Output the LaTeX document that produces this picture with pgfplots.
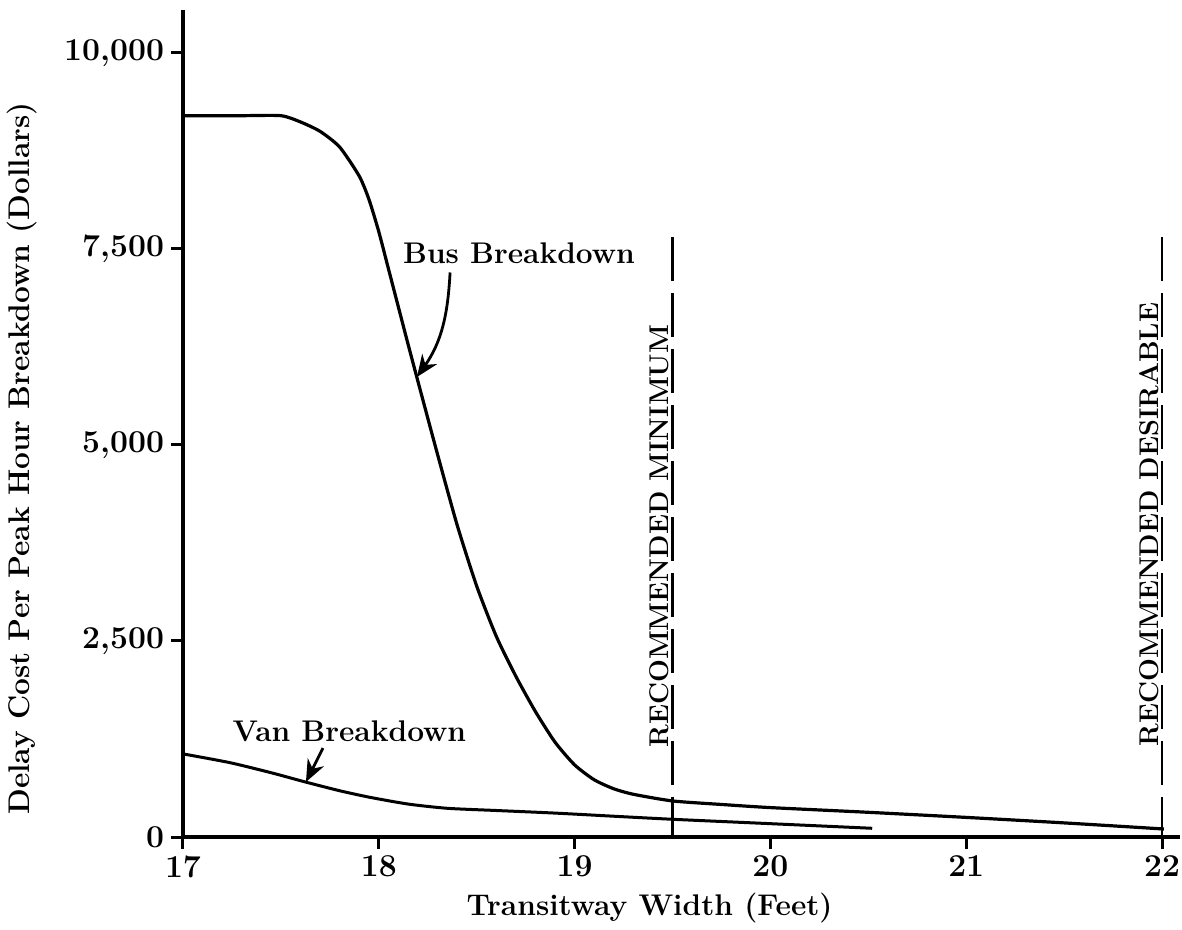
\documentclass[border=0pt]{standalone}
\usepackage{pgfplots}
\pgfplotsset{compat=1.18}
\usetikzlibrary{arrows.meta}
\begin{document}
\begin{tikzpicture}
\useasboundingbox (-91.5bp,-46.5bp) rectangle (499.5bp,418.5bp);
\begin{axis}[
  at={(0,0)}, anchor=south west,
  scale only axis, width=498.5bp, height=413.5bp,
  xmin=17, xmax=22.092, ymin=0, ymax=10548,
  axis lines=left,
  axis line style={line width=2.2bp, -},
  xtick={17,18,19,20,21,22},
  xticklabels={17,18,19,20,21,22},
  ytick={0,2500,5000,7500,10000},
  yticklabels={0,{2,500},{5,000},{7,500},{10,000}},
  tick align=outside,
  major tick length=6bp,
  tick style={line width=1.5bp, black},
  ticklabel style={font=\bfseries\fontsize{16}{18}\selectfont},
  xlabel={Transitway Width (Feet)},
  ylabel={Delay Cost Per Peak Hour Breakdown (Dollars)},
  label style={font=\bfseries\fontsize{15}{18}\selectfont},
  xlabel style={at={(axis description cs:0.468,0)}, anchor=base, yshift=-39bp},
  ylabel style={at={(axis description cs:-0.1535,0.4577)}, anchor=base},
  clip=false,
]
% Bus breakdown
\addplot[line width=1.6bp, smooth, tension=0.4] coordinates {
(17.0,9200) (17.3,9200) (17.5,9200) (17.6,9120) (17.7,9000) (17.8,8800)
(17.9,8430) (17.95,8130) (18.0,7720) (18.05,7240) (18.1,6760) (18.15,6280)
(18.2,5810) (18.3,4880) (18.4,3980) (18.5,3200) (18.6,2560) (18.7,2050)
(18.8,1600) (18.9,1210) (19.0,920) (19.1,730) (19.2,615) (19.3,545) (19.5,460)
(19.75,415) (20.0,375) (20.5,315) (21.0,250) (21.5,180) (22.01,102)
};
% Van breakdown
\addplot[line width=1.5bp, smooth, tension=0.4] coordinates {
(17.0,1060) (17.24,948) (17.45,820) (17.62,705) (17.8,590) (17.955,506)
(18.15,420) (18.35,366) (18.6,338) (18.9,305) (19.2,265) (19.5,226)
(20.0,170) (20.52,111)
};
% recommended lines
\draw[line width=1.2bp, dash pattern=on 22bp off 6bp] (axis cs:19.5,7650) -- (axis cs:19.5,0);
\draw[line width=1.2bp, dash pattern=on 22bp off 6bp] (axis cs:22,7650) -- (axis cs:22,0);
\node[rotate=90, anchor=base west, inner sep=0pt, font=\bfseries\fontsize{13.6}{16}\selectfont]
  at ([xshift=-2bp]axis cs:19.5,1135) {RECOMMENDED MINIMUM};
\node[rotate=90, anchor=base west, inner sep=0pt, font=\bfseries\fontsize{13.6}{16}\selectfont]
  at ([xshift=-2bp]axis cs:22,1150) {RECOMMENDED DESIRABLE};
% labels
\node[anchor=base, inner sep=0pt, font=\bfseries\fontsize{15}{18}\selectfont]
  at (axis cs:18.716,7321) {Bus Breakdown};
\node[anchor=base, inner sep=0pt, font=\bfseries\fontsize{15}{18}\selectfont]
  at (axis cs:17.85,1224) {Van Breakdown};
% arrows
\draw[line width=1.4bp, -{Stealth[length=11bp, width=9bp]}]
  (axis cs:18.364,7200) to[out=-93, in=55] (axis cs:18.195,5867);
\draw[line width=1.4bp, -{Stealth[length=11bp, width=9bp]}]
  (axis cs:17.715,1135) -- (axis cs:17.628,702);
\end{axis}
\end{tikzpicture}
\end{document}
